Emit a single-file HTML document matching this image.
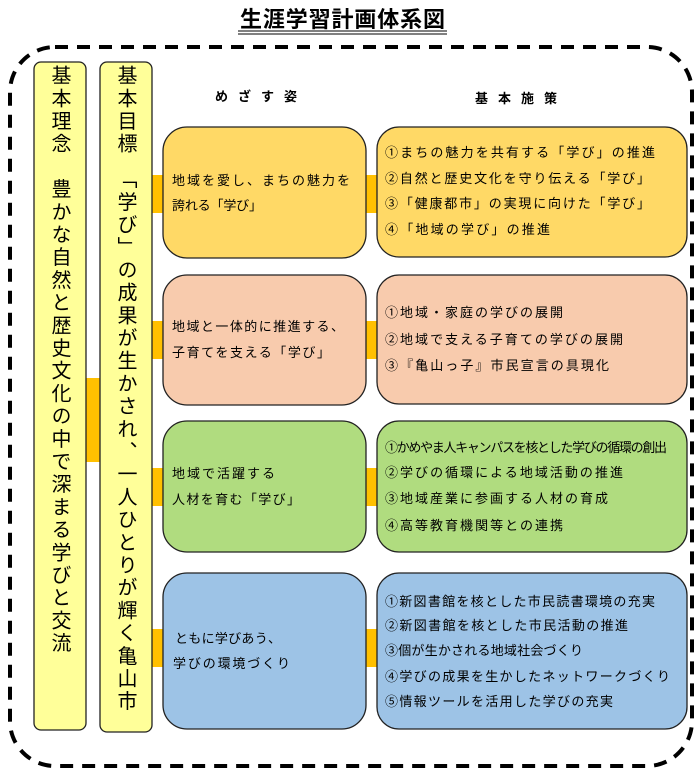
<!DOCTYPE html>
<html><head><meta charset="utf-8"><style>
html,body{margin:0;padding:0;background:#fff;width:696px;height:780px;overflow:hidden;position:relative;font-family:"Liberation Sans","Noto Sans CJK JP",sans-serif;}
.v{position:absolute;writing-mode:vertical-rl;font-size:20px;letter-spacing:2.7px;line-height:24px;color:#000;white-space:nowrap;}
svg{position:absolute;left:0;top:0}
</style></head><body>
<svg width="696" height="780" viewBox="0 0 696 780" font-family="Liberation Sans, Noto Sans CJK JP, sans-serif">
<text x="240" y="27" font-size="22" font-weight="bold" textLength="205" lengthAdjust="spacing">生涯学習計画体系図</text>
<line x1="238" y1="31" x2="447" y2="31" stroke="#000" stroke-width="1"/>
<line x1="238" y1="34" x2="447" y2="34" stroke="#000" stroke-width="1"/>
<rect x="10" y="47" width="682" height="719" rx="45" fill="none" stroke="#000" stroke-width="4" stroke-dasharray="13,9"/>
<!-- connectors -->
<g fill="#FFC000">
<rect x="86" y="378" width="14" height="84"/>
<rect x="152" y="175" width="12" height="38"/><rect x="365" y="175" width="13" height="38"/>
<rect x="152" y="321" width="12" height="38"/><rect x="365" y="321" width="13" height="38"/>
<rect x="152" y="468" width="12" height="38"/><rect x="365" y="468" width="13" height="38"/>
<rect x="152" y="629" width="12" height="38"/><rect x="365" y="629" width="13" height="38"/>
</g>
<g stroke="#222" stroke-width="1.3">
<rect x="34" y="62" width="52" height="668" rx="7" fill="#FFFF99"/>
<rect x="100" y="62" width="52" height="670" rx="7" fill="#FFFF99"/>
<rect x="163" y="127" width="203" height="131" rx="24" fill="#FFD966"/>
<rect x="377" y="127" width="310" height="130" rx="22" fill="#FFD966"/>
<rect x="163" y="275" width="203" height="130" rx="24" fill="#F8CBAD"/>
<rect x="377" y="275" width="310" height="129" rx="22" fill="#F8CBAD"/>
<rect x="163" y="421" width="203" height="131" rx="24" fill="#B0DC7F"/>
<rect x="377" y="421" width="310" height="131" rx="22" fill="#B0DC7F"/>
<rect x="163" y="573" width="203" height="156" rx="24" fill="#9DC3E6"/>
<rect x="377" y="573" width="310" height="156" rx="22" fill="#9DC3E6"/>
</g>
<g font-size="13" font-weight="bold">
<text x="215" y="101" textLength="82" lengthAdjust="spacing">めざす姿</text>
<text x="475" y="103" textLength="82" lengthAdjust="spacing">基本施策</text>
</g>
<g font-size="13">
<text x="172" y="185" textLength="178" lengthAdjust="spacing">地域を愛し、まちの魅力を</text>
<text x="172" y="210" textLength="90" lengthAdjust="spacing">誇れる「学び」</text>
<text x="172" y="331" textLength="172" lengthAdjust="spacing">地域と一体的に推進する、</text>
<text x="172" y="357" textLength="158" lengthAdjust="spacing">子育てを支える「学び」</text>
<text x="172" y="478" textLength="103" lengthAdjust="spacing">地域で活躍する</text>
<text x="172" y="504" textLength="128" lengthAdjust="spacing">人材を育む「学び」</text>
<text x="175" y="643" textLength="106" lengthAdjust="spacing">ともに学びあう、</text>
<text x="173" y="668" textLength="117" lengthAdjust="spacing">学びの環境づくり</text>

<text x="385" y="157" textLength="270" lengthAdjust="spacing">①まちの魅力を共有する「学び」の推進</text>
<text x="385" y="183" textLength="265" lengthAdjust="spacing">②自然と歴史文化を守り伝える「学び」</text>
<text x="385" y="208" textLength="265" lengthAdjust="spacing">③「健康都市」の実現に向けた「学び」</text>
<text x="385" y="234" textLength="165" lengthAdjust="spacing">④「地域の学び」の推進</text>
<text x="385" y="317" textLength="178" lengthAdjust="spacing">①地域・家庭の学びの展開</text>
<text x="385" y="344" textLength="238" lengthAdjust="spacing">②地域で支える子育ての学びの展開</text>
<text x="385" y="370" textLength="224" lengthAdjust="spacing">③『亀山っ子』市民宣言の具現化</text>
<text x="385" y="452" textLength="282" lengthAdjust="spacing">①かめやま人キャンパスを核とした学びの循環の創出</text>
<text x="385" y="477" textLength="238" lengthAdjust="spacing">②学びの循環による地域活動の推進</text>
<text x="385" y="503" textLength="223" lengthAdjust="spacing">③地域産業に参画する人材の育成</text>
<text x="385" y="530" textLength="178" lengthAdjust="spacing">④高等教育機関等との連携</text>
<text x="385" y="606" textLength="270" lengthAdjust="spacing">①新図書館を核とした市民読書環境の充実</text>
<text x="385" y="630" textLength="243" lengthAdjust="spacing">②新図書館を核とした市民活動の推進</text>
<text x="385" y="655" textLength="198" lengthAdjust="spacing">③個が生かされる地域社会づくり</text>
<text x="385" y="681" textLength="285" lengthAdjust="spacing">④学びの成果を生かしたネットワークづくり</text>
<text x="385" y="706" textLength="228" lengthAdjust="spacing">⑤情報ツールを活用した学びの充実</text>
</g>
</svg>
<div class="v" style="left:47px;top:65px;">基本理念　豊かな自然と歴史文化の中で深まる学びと交流</div>
<div class="v" style="left:113px;top:65px;">基本目標　「学び」の成果が生かされ、一人ひとりが輝く亀山市</div>
</body></html>
